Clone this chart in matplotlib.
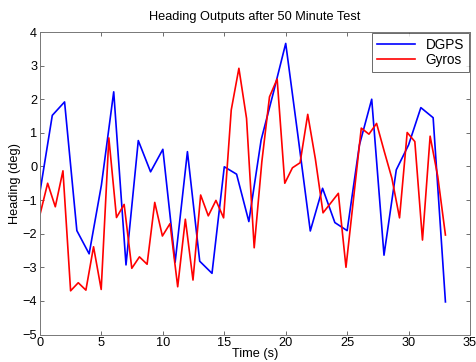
import numpy as np
import matplotlib
matplotlib.use('Agg')
import matplotlib.pyplot as plt

# DGPS heading, one sample per second
dgps_t = list(range(34))
dgps = [-0.75, 1.52, 1.92, -1.91, -2.6, -0.55, 2.22, -2.93, 0.77, -0.16,
        0.51, -2.85, 0.44, -2.82, -3.18, -0.01, -0.23, -1.64, 0.79, 2.2,
        3.66, 0.9, -1.92, -0.65, -1.67, -1.91, 0.64, 2.0, -2.64, -0.1,
        0.64, 1.75, 1.45, -4.03]

# gyro heading, 54 samples over the same 33 s
gyro_t = np.linspace(0, 33, 54)
gyro = [-1.43, -0.5, -1.2, -0.13, -3.7, -3.46, -3.68, -2.39, -3.66, 0.85,
        -1.52, -1.13, -3.03, -2.69, -2.91, -1.07, -2.07, -1.7, -3.58, -1.57,
        -3.38, -0.85, -1.47, -1.01, -1.53, 1.68, 2.92, 1.43, -2.42, 0.14,
        2.07, 2.6, -0.5, -0.04, 0.11, 1.55, 0.22, -1.38, -1.09, -0.8,
        -3.0, -0.93, 1.14, 0.96, 1.28, 0.45, -0.35, -1.53, 1.01, 0.74,
        -2.19, 0.9, -0.3, -2.04]

xticks = [0, 5, 10, 15, 20, 25, 30, 35]
yticks = [-5, -4, -3, -2, -1, 0, 1, 2, 3, 4]

plt.rcParams['font.family'] = ['Liberation Sans', 'DejaVu Sans']
fs = 9.2

fig = plt.figure(figsize=(4.77, 3.62), dpi=100)
ax = fig.add_axes([40 / 477, 1 - 334.5 / 362, 430 / 477, 302.5 / 362])

ax.plot(dgps_t, dgps, color='#0000ff', lw=1.2, label='DGPS')
ax.plot(gyro_t, gyro, color='#ff0000', lw=1.2, label='Gyros')

ax.set_xlim(0, 35)
ax.set_ylim(-5, 4)
ax.set_xticks(xticks)
ax.set_yticks(yticks)
ax.tick_params(direction='in', length=3, width=0.6, color='#555555',
               top=True, right=True, pad=2, labelsize=fs)
for s in ax.spines.values():
    s.set_color('#777777')
    s.set_linewidth(0.7)

ax.set_title('Heading Outputs after 50 Minute Test', fontsize=fs, pad=9)
ax.set_xlabel('Time (s)', fontsize=fs, labelpad=-1)
ax.set_ylabel('Heading (deg)', fontsize=fs, labelpad=1)

leg = ax.legend(loc='upper right', fontsize=fs + 0.6, fancybox=False,
                borderaxespad=0.1, handlelength=2.8, borderpad=0.35,
                labelspacing=0.05, handletextpad=0.8)
leg.get_frame().set_edgecolor('#444444')
leg.get_frame().set_linewidth(0.7)

fig.savefig('out.png', dpi=100)
